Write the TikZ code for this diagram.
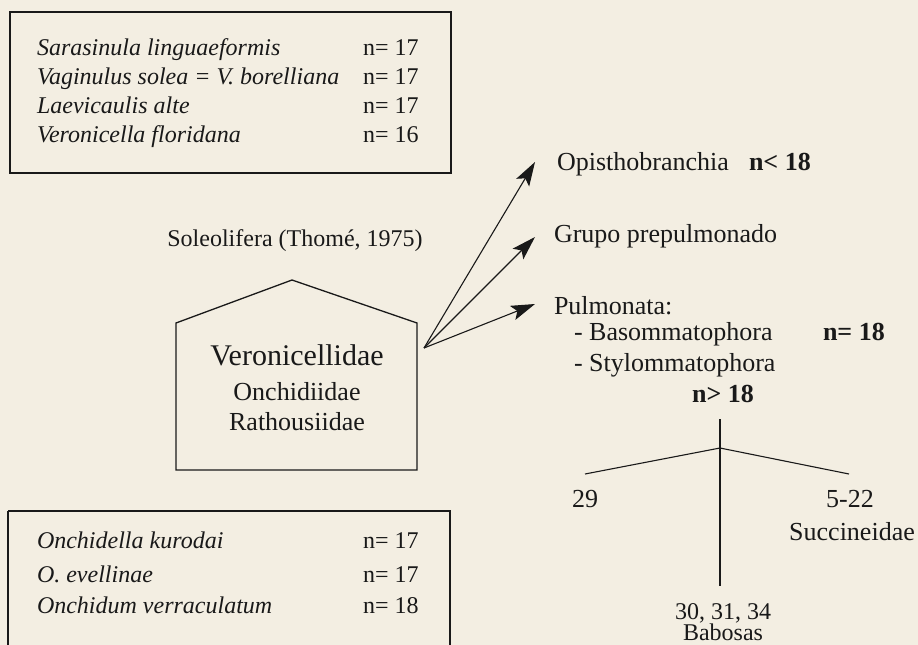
\documentclass[tikz,border=0pt]{standalone}
\usepackage{fontspec}
\setmainfont{Liberation Serif}
\usetikzlibrary{arrows.meta}
\definecolor{paper}{RGB}{243,238,226}
\definecolor{ink}{RGB}{25,25,25}
\tikzset{
  lbl/.style={inner sep=0pt, outer sep=0pt, text=ink, text height=18pt, text depth=4pt, font=\fontsize{24}{29}\selectfont},
  big/.style={lbl, text height=19.5pt, text depth=4.5pt, font=\fontsize{26}{31}\selectfont},
  bld/.style={big, font=\fontsize{26}{31}\selectfont\bfseries},
  frame/.style={draw=ink, line width=1.4pt},
  conn/.style={draw=ink, line width=1.1pt},
  arr/.style={conn, -{Stealth[length=24pt,width=15pt,inset=5pt]}}
}
\begin{document}
\begin{tikzpicture}[x=1pt,y=-1pt]
\fill[paper] (0,0) rectangle (918,645);
\useasboundingbox (0,0) rectangle (918,645);
% top box
\draw[frame] (10,12) rectangle (451,173);
\node[lbl, anchor=west] (t1) at (37,48) {\itshape Sarasinula linguaeformis};
\node[lbl, anchor=west] (t2) at (37,77) {\itshape Vaginulus solea = V. borelliana};
\node[lbl, anchor=west] (t3) at (37,106) {\itshape Laevicaulis alte};
\node[lbl, anchor=west] (t4) at (37,135) {\itshape Veronicella floridana};
\node[lbl, anchor=west] (n1) at (363,48) {n= 17};
\node[lbl, anchor=west] (n2) at (363,77) {n= 17};
\node[lbl, anchor=west] (n3) at (363,106) {n= 17};
\node[lbl, anchor=west] (n4) at (363,135) {n= 16};
% bottom box
\draw[frame] (8,511) -- (8,660) (8,511) -- (450,511) -- (450,660);
\node[lbl, anchor=west] (b1) at (37,541) {\itshape Onchidella kurodai};
\node[lbl, anchor=west] (b2) at (37,575) {\itshape O. evellinae};
\node[lbl, anchor=west] (b3) at (37,606) {\itshape Onchidum verraculatum};
\node[lbl, anchor=west] (m1) at (363,541) {n= 17};
\node[lbl, anchor=west] (m2) at (363,575) {n= 17};
\node[lbl, anchor=west] (m3) at (363,606) {n= 18};
% pentagon
\node[lbl] (sole) at (295,239) {Soleolifera (Thomé, 1975)};
\coordinate (pa) at (292,280);
\coordinate (pl) at (176,323);
\coordinate (pr) at (417,323);
\coordinate (pbl) at (176,470);
\coordinate (pbr) at (417,470);
\draw[conn, line width=1.3pt] (pa) -- (pr) -- (pbr) -- (pbl) -- (pl) -- cycle;
\node[lbl, text height=22pt, text depth=5pt, font=\fontsize{30}{36}\selectfont] (vero) at (297,357) {Veronicellidae};
\node[big] (onch) at (297,393) {Onchidiidae};
\node[big] (rath) at (297,423) {Rathousiidae};
% arrows
\coordinate (src) at (424,348);
\coordinate (tip1) at (535,162);
\coordinate (tip2) at (535,237);
\coordinate (tip3) at (535,304);
\draw[arr] (src) -- (tip1);
\draw[arr] (src) -- (tip2);
\draw[arr] (src) -- (tip3);
\node[big, anchor=west] (opis) at (557,163) {Opisthobranchia};
\node[bld, anchor=west] (opn) at (749,163) {n< 18};
\node[big, anchor=west] (grupo) at (554,235) {Grupo prepulmonado};
\node[big, anchor=west] (pulm) at (554,307) {Pulmonata:};
\node[big, anchor=west] (baso) at (574,333) {- Basommatophora};
\node[bld, anchor=west] (bason) at (823,333) {n= 18};
\node[big, anchor=west] (stylo) at (574,364) {- Stylommatophora};
\node[bld] (styn) at (723,395) {n> 18};
% tree
\coordinate (vtop) at (720,419);
\coordinate (vj) at (720,448);
\coordinate (vbot) at (720,586);
\coordinate (lend) at (585,474);
\coordinate (rend) at (849,474);
\draw[conn] (vtop) -- (vbot);
\draw[conn] (lend) -- (vj) -- (rend);
\node[big] (c29) at (585,500) {29};
\node[big] (c522) at (850,500) {5-22};
\node[big] (succ) at (852,533) {Succineidae};
\node[lbl, text depth=2pt] (c30) at (723,611) {30, 31, 34};
\node[lbl, text height=16pt] (babo) at (723,634) {Babosas};
\end{tikzpicture}
\end{document}
